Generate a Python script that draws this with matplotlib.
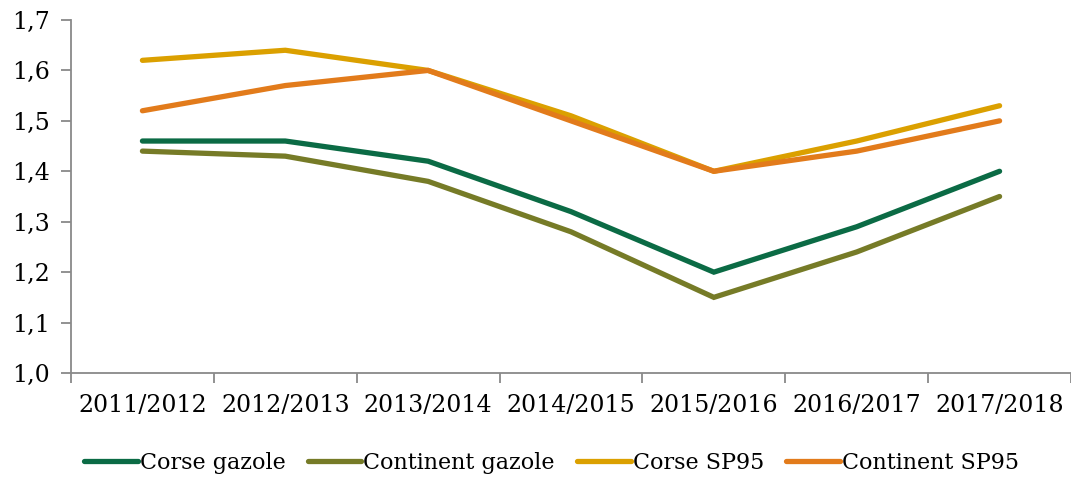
import matplotlib
matplotlib.use("Agg")
import matplotlib.pyplot as plt

categories = ["2011/2012", "2012/2013", "2013/2014", "2014/2015", "2015/2016", "2016/2017", "2017/2018"]
corse_gazole = [1.46, 1.46, 1.42, 1.32, 1.20, 1.29, 1.40]
continent_gazole = [1.44, 1.43, 1.38, 1.28, 1.15, 1.24, 1.35]
corse_sp95 = [1.62, 1.64, 1.60, 1.51, 1.40, 1.46, 1.53]
continent_sp95 = [1.52, 1.57, 1.60, 1.50, 1.40, 1.44, 1.50]
yticks = [1.0, 1.1, 1.2, 1.3, 1.4, 1.5, 1.6, 1.7]

series = [
    ("Corse gazole", corse_gazole, "#0B6B45"),
    ("Continent gazole", continent_gazole, "#767B27"),
    ("Corse SP95", corse_sp95, "#DBA000"),
    ("Continent SP95", continent_sp95, "#E27B1B"),
]

plt.rcParams['font.family'] = ['DejaVu Serif']
fig = plt.figure(figsize=(10.71, 4.78), dpi=100)
ax = fig.add_axes([71/1071, 1-373/478, 1000/1071, (373-20)/478])

x = list(range(len(categories)))
for name, vals, col in series:
    ax.plot(x, vals, color=col, lw=3.8, label=name, solid_capstyle='round', solid_joinstyle='miter')

ax.set_xlim(-0.5, len(categories) - 0.5)
ax.set_ylim(1.0, 1.7)
ax.set_yticks(yticks)
ax.set_yticklabels([f"{v:.1f}".replace(".", ",") for v in yticks])
ax.set_xticks([i - 0.5 for i in range(len(categories) + 1)], minor=False)
ax.set_xticklabels([])
ax.set_xticks(x, minor=True)
ax.set_xticklabels(categories, minor=True)
ax.tick_params(axis='x', which='minor', length=0, pad=15, labelsize=17)
ax.tick_params(axis='x', which='major', length=7, color="#898989", width=1.3)
ax.tick_params(axis='y', length=7, color="#898989", width=1.3, labelsize=17, pad=8)
for s in ["top", "right"]:
    ax.spines[s].set_visible(False)
for s in ["left", "bottom"]:
    ax.spines[s].set_color("#898989")
    ax.spines[s].set_linewidth(1.3)

leg = fig.legend(loc="center", bbox_to_anchor=(0.515, 1-463/478), ncol=4, frameon=False,
                 fontsize=16, handlelength=2.4, handletextpad=0.1, columnspacing=1.0)

fig.savefig("out.png", dpi=100)
